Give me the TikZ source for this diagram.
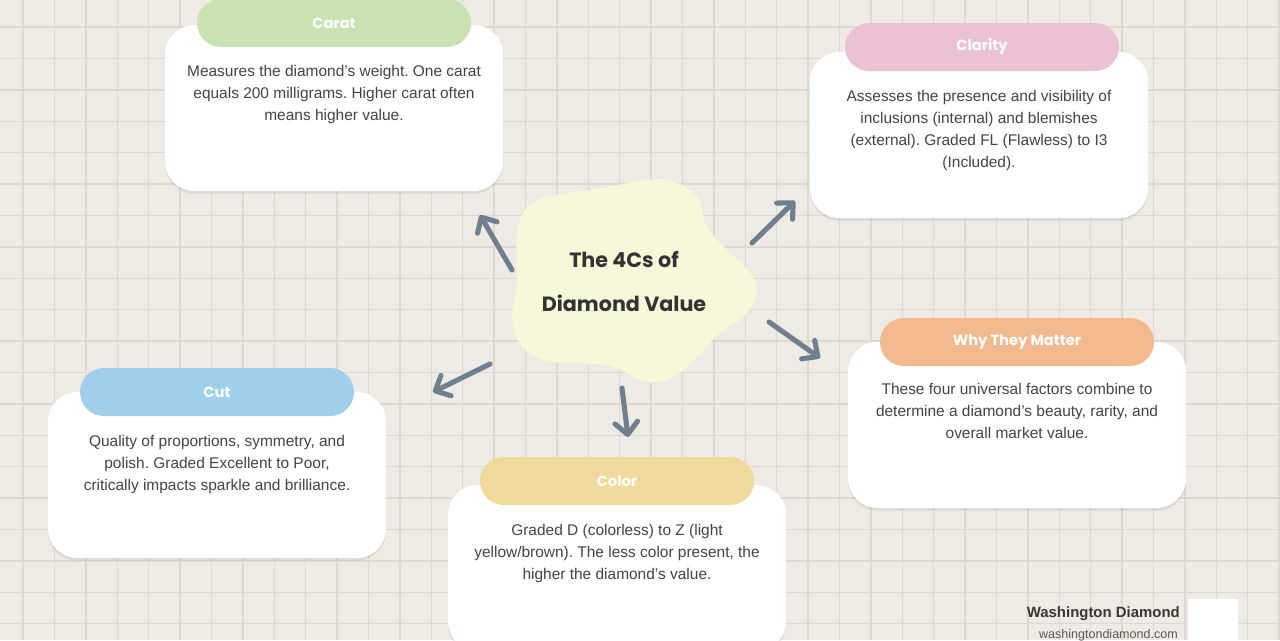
\documentclass[tikz,border=0pt]{standalone}
\usepackage{fontspec}
\setmainfont{Liberation Sans}
\newfontfamily\headfont{Poppins}
\usetikzlibrary{arrows.meta,shapes.misc,shadows}
\definecolor{bgc}{HTML}{EEEAE4}
\definecolor{gridc}{HTML}{DFD8CE}
\definecolor{txtc}{HTML}{444444}
\definecolor{arrc}{HTML}{6F7F8D}
\definecolor{blobc}{HTML}{F7F7D9}
\definecolor{caratc}{HTML}{C9E2B1}
\definecolor{clarityc}{HTML}{EBC1D5}
\definecolor{whyc}{HTML}{F2B98F}
\definecolor{cutc}{HTML}{9FCFEA}
\definecolor{colorc}{HTML}{EFD99B}
\tikzset{
  gridline/.style={draw=gridc, line width=1.05pt},
  cardbox/.style={rectangle, fill=white, rounded corners=22pt, minimum width=253.5pt, minimum height=124.5pt, inner sep=0pt,
    drop shadow={shadow xshift=0pt, shadow yshift=-2pt, opacity=0.07, fill=black}},
  pillbox/.style={rounded rectangle, minimum width=205.5pt, minimum height=36pt, inner sep=0pt, text=white, font=\headfont\bfseries\fontsize{11}{12}\selectfont},
  bodytext/.style={anchor=north, align=center, inner sep=0pt, text=txtc, font=\fontsize{11.6}{16.5}\selectfont},
  linkarrow/.style={draw=arrc, line width=3.8pt, line cap=round, line join=round, -{Straight Barb[length=9pt,width=17pt,line cap=round,line join=round]}},
}
\begin{document}
\frenchspacing
\begin{tikzpicture}[x=0.75pt,y=-0.75pt]
\useasboundingbox (0,0) rectangle (1280,640);
\clip (0,0) rectangle (1280,640);
\fill[bgc] (0,0) rectangle (1280,640);
\foreach \i in {0,...,40} \draw[gridline] ({23+31.4*\i},0) -- ({23+31.4*\i},640);
\foreach \j in {0,...,20} \draw[gridline] (0,{-4.4+31.4*\j}) -- (1280,{-4.4+31.4*\j});

% central blob
\fill[blobc] plot[smooth cycle, tension=0.7] coordinates {
 (518,227) (533,203) (557,195) (590,190) (630,183) (667,180) (697,197) (707,227)
 (727,250) (750,273) (757,293) (743,317) (720,333) (697,357) (673,377) (647,382)
 (613,367) (580,363) (543,360) (520,343) (512,317) (517,280)};
\node[align=center, text=black!80, font=\headfont\bfseries\fontsize{15.5}{33}\selectfont] (title) at (624,281) {The 4Cs of\\Diamond Value};

% cards
\node[cardbox] (caratcard) at (334,108) {};
\node[pillbox, fill=caratc] (caratpill) at (334,23) {Carat};
\node[bodytext] (carattext) at (334,65) {Measures the diamond's weight. One carat\\equals 200 milligrams. Higher carat often\\means higher value.};

\node[cardbox] (claritycard) at (979,135) {};
\node[pillbox, fill=clarityc] (claritypill) at (982,47) {Clarity};
\node[bodytext] (claritytext) at (979,90) {Assesses the presence and visibility of\\inclusions (internal) and blemishes\\(external). Graded FL (Flawless) to I3\\(Included).};

\node[cardbox] (whycard) at (1017,425) {};
\node[pillbox, fill=whyc] (whypill) at (1017,342) {Why They Matter};
\node[bodytext] (whytext) at (1017,383) {These four universal factors combine to\\determine a diamond's beauty, rarity, and\\overall market value.};

\node[cardbox] (cutcard) at (217,475) {};
\node[pillbox, fill=cutc] (cutpill) at (217,392) {Cut};
\node[bodytext] (cuttext) at (217,435) {Quality of proportions, symmetry, and\\polish. Graded Excellent to Poor,\\critically impacts sparkle and brilliance.};

\node[cardbox] (colorcard) at (617,568) {};
\node[pillbox, fill=colorc] (colorpill) at (617,481) {Color};
\node[bodytext] (colortext) at (617,524) {Graded D (colorless) to Z (light\\yellow/brown). The less color present, the\\higher the diamond's value.};

% arrows
\coordinate (a1s) at (512,270); \coordinate (a1e) at (480,215);
\coordinate (a2s) at (752,243); \coordinate (a2e) at (795,201);
\coordinate (a3s) at (769,322); \coordinate (a3e) at (820,358);
\coordinate (a4s) at (622,388); \coordinate (a4e) at (628,437);
\coordinate (a5s) at (490,364); \coordinate (a5e) at (433,392);
\draw[linkarrow] (a1s) -- (a1e);
\draw[linkarrow] (a2s) -- (a2e);
\draw[linkarrow] (a3s) -- (a3e);
\draw[linkarrow] (a4s) -- (a4e);
\draw[linkarrow] (a5s) -- (a5e);

% logo
\node[anchor=east, inner sep=0pt, text=black!78, font=\bfseries\fontsize{11.2}{13}\selectfont] (brand) at (1180,614) {Washington Diamond};
\node[anchor=east, inner sep=0pt, text=black!65, font=\fontsize{9.4}{11}\selectfont] (url) at (1178,635) {washingtondiamond.com};
\node[fill=white, minimum width=37.5pt, minimum height=33pt, inner sep=0pt, anchor=north west] (logobox) at (1188,599) {};
\end{tikzpicture}
\end{document}
